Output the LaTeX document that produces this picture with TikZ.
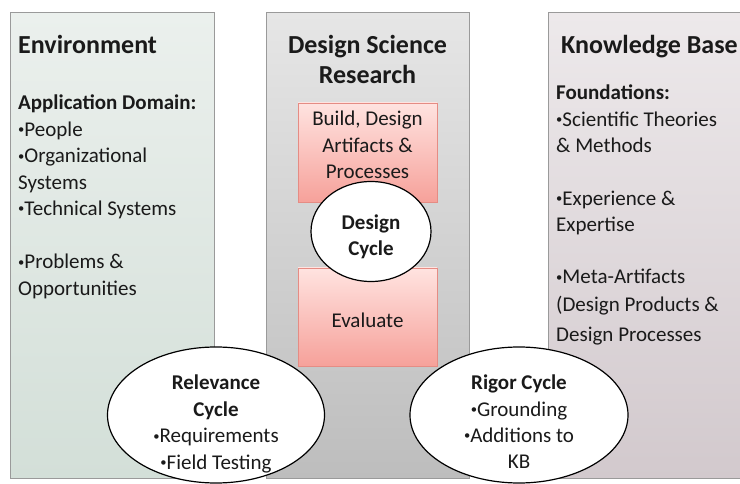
\documentclass[tikz,border=0pt]{standalone}
\usepackage{fontspec}
\setmainfont{Carlito}
\usepackage{graphicx}
\usepackage{xcolor}
\usepackage{tikz}
\usetikzlibrary{shapes.geometric,positioning}
\definecolor{envtop}{HTML}{EBF0ED}
\definecolor{envbot}{HTML}{D3DFD8}
\definecolor{dsrtop}{HTML}{E6E6E6}
\definecolor{dsrbot}{HTML}{BDBDBD}
\definecolor{kbtop}{HTML}{EDE9EB}
\definecolor{kbbot}{HTML}{D2C9CD}
\definecolor{pinktop}{HTML}{FFE3E0}
\definecolor{pinkbot}{HTML}{F6A19A}
\definecolor{pinkrim}{HTML}{E58C84}
\definecolor{rim}{HTML}{9A9A9A}
\definecolor{ink}{HTML}{1A1A1A}
\newcommand{\bodyfont}{\fontsize{21}{26.4}\selectfont}
\newcommand{\ttlfont}{\fontsize{26}{30}\selectfont\bfseries}
\newcommand{\bul}{\raisebox{2.6pt}{\scalebox{0.6}{•}}}
\tikzset{
  panel/.style={draw=rim, line width=0.8pt, anchor=north west, minimum height=466pt, inner sep=0pt},
  proc/.style={draw=pinkrim, line width=0.8pt, top color=pinktop, bottom color=pinkbot, minimum width=139pt, minimum height=99pt, inner sep=0pt, text=ink, font=\bodyfont},
  cyc/.style={ellipse, draw=black, line width=1.2pt, fill=white, inner sep=0pt},
  ttl/.style={text=ink, font=\ttlfont, inner sep=0pt},
  lab/.style={text=ink, font=\bodyfont, inner sep=0pt},
}

\begin{document}
\begin{tikzpicture}[x=1pt,y=-1pt]
  \useasboundingbox (0,0) rectangle (740,484);
  \node[panel, top color=envtop, bottom color=envbot, minimum width=204pt] (env) at (10,12) {};
  \node[panel, top color=dsrtop, bottom color=dsrbot, minimum width=203pt] (dsr) at (266,12) {};
  \node[panel, top color=kbtop, bottom color=kbbot, minimum width=220pt] (kb) at (548,12) {};
  \node[ttl, anchor=north west] (envt) at (18,35) {Environment};
  \node[lab, anchor=north west, align=left] (envb) at (18,95) {\textbf{Application Domain:}\\\bul People\\\bul Organizational\\Systems\\\bul Technical Systems\\[27pt]\bul Problems \&\\Opportunities};
  \node[ttl, anchor=north, align=center] (dsrt) at (367.5,35) {Design Science\\Research};
  \node[proc] (build) at (367.5,152.5) {};
  \node[lab, anchor=north, align=center] (buildt) at (367.5,111) {Build, Design\\Artifacts \&\\Processes};
  \node[proc, minimum height=98pt] (eval) at (367.5,317) {\raisebox{-3pt}[\height][0pt]{Evaluate}};
  \node[cyc, minimum width=120pt, minimum height=100pt] (dc) at (371,231.5) {};
  \node[lab, font=\bodyfont\bfseries, align=center] (dct) at (371,237) {Design\\Cycle};
  \node[ttl, anchor=north west] (kbt) at (561,35) {Knowledge Base};
  \node[lab, anchor=north west, align=left] (kbb) at (556,85) {\textbf{Foundations:}\\\bul Scientific Theories\\\& Methods\\[26pt]\bul Experience \&\\Expertise\\[26pt]\bul Meta-Artifacts\\[1pt](Design Products \&\\[4pt]Design Processes};
  \node[cyc, minimum width=217pt, minimum height=136pt] (rel) at (216,415) {};
  \node[lab, align=center] (relt) at (216,424) {\textbf{Relevance}\\\textbf{Cycle}\\\bul Requirements\\\bul Field Testing};
  \node[cyc, minimum width=218pt, minimum height=136pt] (rig) at (519,415) {};
  \node[lab, align=center] (rigt) at (519,422) {\textbf{Rigor Cycle}\\\bul Grounding\\\bul Additions to\\KB};
\end{tikzpicture}
\end{document}
